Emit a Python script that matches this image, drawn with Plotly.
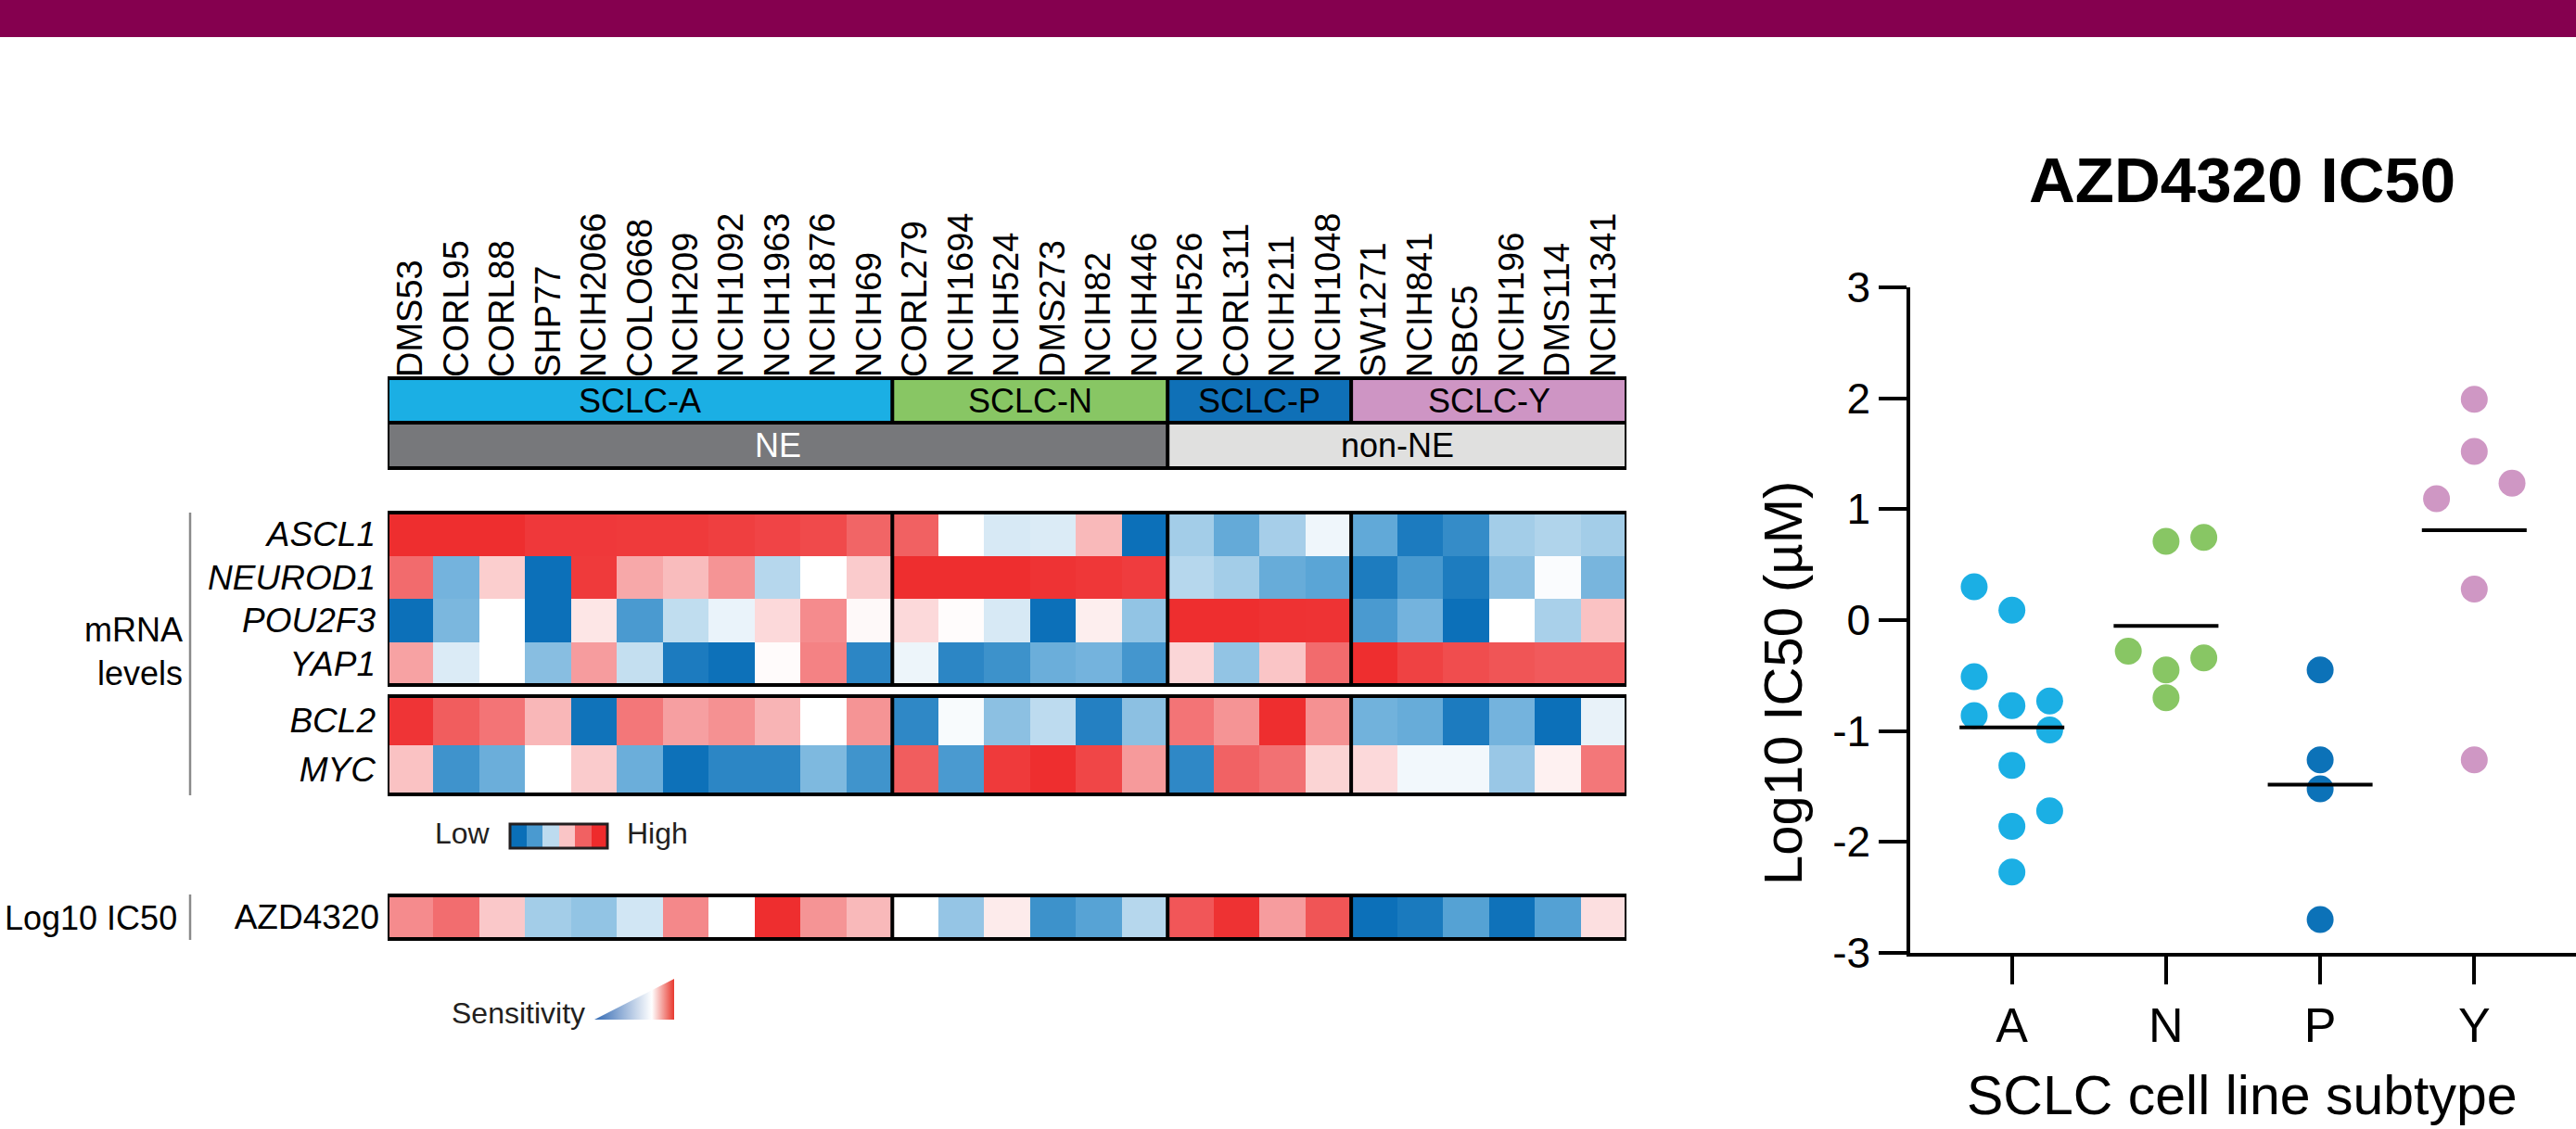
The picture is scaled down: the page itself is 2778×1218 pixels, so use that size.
import numpy as np
import plotly.graph_objects as go

W, H = 2778, 1218
FONT = "Liberation Sans, Arial, Helvetica, sans-serif"
INK = "#000000"

# ---------------- data ----------------
cell_lines = ["DMS53", "CORL95", "CORL88", "SHP77", "NCIH2066", "COLO668", "NCIH209",
              "NCIH1092", "NCIH1963", "NCIH1876", "NCIH69",
              "CORL279", "NCIH1694", "NCIH524", "DMS273", "NCIH82", "NCIH446",
              "NCIH526", "CORL311", "NCIH211", "NCIH1048",
              "SW1271", "NCIH841", "SBC5", "NCIH196", "DMS114", "NCIH1341"]
subtype_names = ["SCLC-A", "SCLC-N", "SCLC-P", "SCLC-Y"]
subtype_counts = [11, 6, 4, 6]
subtype_colors = ["#1bafe4", "#88c664", "#0f70b7", "#ce95c4"]
ne_names = ["NE", "non-NE"]
ne_counts = [17, 10]
ne_colors = ["#77787b", "#e0e0df"]
ne_text_colors = ["#ffffff", "#000000"]

genes_tf = ["ASCL1", "NEUROD1", "POU2F3", "YAP1"]
genes_other = ["BCL2", "MYC"]
drug_row = ["AZD4320"]

ascl1 = [0.98, 0.98, 0.98, 0.90, 0.90, 0.89, 0.89, 0.85, 0.81, 0.77, 0.57,
         0.60, 0.00, -0.12, -0.11, 0.24, -0.99,
         -0.28, -0.47, -0.27, -0.05,
         -0.48, -0.89, -0.73, -0.28, -0.24, -0.28]
neurod1 = [0.52, -0.42, 0.17, -0.99, 0.89, 0.30, 0.23, 0.37, -0.22, 0.00, 0.18,
           0.98, 0.98, 0.98, 0.94, 0.91, 0.87,
           -0.22, -0.28, -0.46, -0.50,
           -0.88, -0.61, -0.88, -0.35, -0.015, -0.41]
pou2f3 = [-0.99, -0.40, 0.00, -0.99, 0.086, -0.60, -0.19, -0.064, 0.13, 0.40, 0.02,
          0.13, 0.01, -0.12, -0.99, 0.06, -0.33,
          0.98, 0.98, 0.95, 0.94,
          -0.60, -0.42, -0.99, 0.00, -0.26, 0.21]
yap1 = [0.32, -0.11, 0.00, -0.36, 0.34, -0.18, -0.89, -0.98, 0.015, 0.43, -0.79,
        -0.055, -0.79, -0.68, -0.45, -0.42, -0.64,
        0.14, -0.33, 0.20, 0.52,
        0.98, 0.83, 0.75, 0.69, 0.65, 0.65]
bcl2 = [0.93, 0.63, 0.48, 0.25, -0.96, 0.47, 0.33, 0.38, 0.26, 0.00, 0.37,
        -0.77, -0.02, -0.35, -0.20, -0.84, -0.35,
        0.48, 0.37, 0.98, 0.38,
        -0.43, -0.46, -0.89, -0.42, -0.99, -0.07]
myc = [0.21, -0.67, -0.45, 0.00, 0.18, -0.45, -0.98, -0.79, -0.79, -0.39, -0.66,
       0.63, -0.60, 0.89, 0.98, 0.80, 0.35,
       -0.77, 0.59, 0.49, 0.15,
       0.13, -0.04, -0.04, -0.31, 0.05, 0.47]
azd4320 = [0.40, 0.51, 0.19, -0.28, -0.33, -0.14, 0.41, 0.00, 0.98, 0.37, 0.24,
           0.00, -0.32, 0.07, -0.68, -0.52, -0.22,
           0.68, 0.95, 0.34, 0.69,
           -0.99, -0.90, -0.53, -0.97, -0.54, 0.11]

legend_steps = [-1.0, -0.6, -0.2, 0.2, 0.6, 1.0]

# scatter panel
groups = ["A", "N", "P", "Y"]
group_colors = ["#1bafe4", "#88c664", "#0c72b8", "#cf97c4"]
ic50_A = [0.30, 0.09, -0.51, -0.77, -0.73, -0.86, -0.99, -1.31, -1.72, -1.86, -2.27]
ic50_N = [0.71, 0.745, -0.28, -0.45, -0.34, -0.70]
ic50_P = [-0.45, -1.26, -1.52, -2.70]
ic50_Y = [1.99, 1.52, 1.235, 1.095, 0.28, -1.26]
jitter_A = [-0.245, 0, -0.245, 0, 0.245, -0.245, 0.245, 0, 0.245, 0, 0]
jitter_N = [0, 0.245, -0.245, 0, 0.245, 0]
jitter_P = [0, 0, 0, 0]
jitter_Y = [0, 0, 0.245, -0.245, 0, 0]
y_tick_vals = [-3, -2, -1, 0, 1, 2, 3]
y_tick_labels = ["-3", "-2", "-1", "0", "1", "2", "3"]

# ---------------- helpers ----------------
def px(p):
    return p / W


def py(p):
    return 1 - p / H


colorscale = [[0, "#0a6fb8"], [0.25, "#5aa5d6"], [0.5, "#ffffff"],
              [0.75, "#f26e70"], [1, "#ee2b2c"]]


def step_scale(colors):
    n = len(colors)
    cs = []
    for i, c in enumerate(colors):
        cs.append([i / n, c])
        cs.append([(i + 1) / n, c])
    return cs


def expand(counts):
    out = []
    for i, c in enumerate(counts):
        out += [i] * c
    return out


subtype_codes = expand(subtype_counts)
ne_codes = expand(ne_counts)

fig = go.Figure()

# subtype bar
fig.add_trace(go.Heatmap(z=[subtype_codes], x=cell_lines, y=[0], xaxis="x", yaxis="y",
                         colorscale=step_scale(subtype_colors), zmin=-0.5, zmax=3.5,
                         showscale=False, hoverinfo="skip"))
# NE bar
fig.add_trace(go.Heatmap(z=[ne_codes], x=cell_lines, y=[0], xaxis="x", yaxis="y2",
                         colorscale=step_scale(ne_colors), zmin=-0.5, zmax=1.5,
                         showscale=False, hoverinfo="skip"))
# mRNA heatmaps
fig.add_trace(go.Heatmap(z=[ascl1, neurod1, pou2f3, yap1], x=cell_lines, y=genes_tf,
                         xaxis="x", yaxis="y3", colorscale=colorscale, zmin=-1, zmax=1,
                         showscale=False))
fig.add_trace(go.Heatmap(z=[bcl2, myc], x=cell_lines, y=genes_other,
                         xaxis="x", yaxis="y4", colorscale=colorscale, zmin=-1, zmax=1,
                         showscale=False))
fig.add_trace(go.Heatmap(z=[azd4320], x=cell_lines, y=drug_row,
                         xaxis="x", yaxis="y5", colorscale=colorscale, zmin=-1, zmax=1,
                         showscale=False))
# Low/High legend
fig.add_trace(go.Heatmap(z=[legend_steps], xaxis="x2", yaxis="y6", colorscale=colorscale,
                         zmin=-1, zmax=1, showscale=False, hoverinfo="skip"))
# sensitivity triangle
fig.add_trace(go.Scatter(x=[0, 1, 1, 0], y=[0, 0, 1, 0], xaxis="x3", yaxis="y7",
                         mode="lines", line=dict(width=0), fill="toself",
                         fillgradient=dict(type="horizontal",
                                           colorscale=[[0, "#3269b3"], [0.72, "#ffffff"],
                                                       [1, "#e8392f"]]),
                         hoverinfo="skip", showlegend=False))

# scatter panel
vals = [ic50_A, ic50_N, ic50_P, ic50_Y]
jits = [jitter_A, jitter_N, jitter_P, jitter_Y]
for gi, (g, v, j, c) in enumerate(zip(groups, vals, jits, group_colors)):
    fig.add_trace(go.Scatter(x=[gi + d for d in j], y=v, xaxis="x4", yaxis="y8",
                             mode="markers", marker=dict(size=29, color=c),
                             showlegend=False, name=g, cliponaxis=False))
    m = float(np.mean(v))
    fig.add_trace(go.Scatter(x=[gi - 0.34, gi + 0.34], y=[m, m], xaxis="x4", yaxis="y8",
                             mode="lines", line=dict(color="black", width=4),
                             showlegend=False, hoverinfo="skip"))

hidden = dict(showticklabels=False, ticks="", showgrid=False, zeroline=False, showline=False,
              automargin=False)

layout = dict(
    width=W, height=H, margin=dict(l=0, r=0, t=0, b=0, pad=0, autoexpand=False),
    paper_bgcolor="white", plot_bgcolor="white",
    font=dict(family=FONT, color=INK),
    xaxis=dict(domain=[px(418), px(1754)], anchor="y", side="top", tickangle=-90,
               tickfont=dict(size=38, family=FONT, color=INK), ticks="",
               showgrid=False, zeroline=False, showline=False, automargin=False,
               type="category", categoryorder="array", categoryarray=cell_lines,
               range=[-0.5, len(cell_lines) - 0.5]),
    yaxis=dict(domain=[py(456), py(408)], anchor="x", range=[-0.5, 0.5], **hidden),
    yaxis2=dict(domain=[py(505), py(456)], anchor="x", range=[-0.5, 0.5], **hidden),
    yaxis3=dict(domain=[py(739), py(553)], anchor="x", autorange="reversed",
                tickfont=dict(size=37, family=FONT, color=INK, style="italic"),
                ticks="", showgrid=False, zeroline=False, showline=False,
                ticklabelstandoff=12, automargin=False),
    yaxis4=dict(domain=[py(857), py(751)], anchor="x", autorange="reversed",
                tickfont=dict(size=37, family=FONT, color=INK, style="italic"),
                ticks="", showgrid=False, zeroline=False, showline=False,
                ticklabelstandoff=12, automargin=False),
    yaxis5=dict(domain=[py(1013), py(966)], anchor="x",
                tickfont=dict(size=37, family=FONT, color=INK),
                ticks="", showgrid=False, zeroline=False, showline=False,
                ticklabelstandoff=8, automargin=False),
    xaxis2=dict(domain=[px(550), px(655)], anchor="y6", **hidden),
    yaxis6=dict(domain=[py(915), py(889)], anchor="x2", **hidden),
    xaxis3=dict(domain=[px(641), px(727)], anchor="y7", range=[0, 1], **hidden),
    yaxis7=dict(domain=[py(1100), py(1056)], anchor="x3", range=[0, 1], **hidden),
    xaxis4=dict(domain=[px(2060), 1.0], anchor="y8", range=[-0.66, 3.66],
                tickvals=list(range(len(groups))), ticktext=groups,
                tickfont=dict(size=52, family=FONT, color=INK),
                ticks="outside", ticklen=30, tickwidth=3.5, tickcolor="black",
                showline=True, linewidth=3.5, linecolor="black",
                showgrid=False, zeroline=False, automargin=False),
    yaxis8=dict(domain=[py(1028), py(310)], anchor="x4", range=[-3, 3],
                tickvals=y_tick_vals, ticktext=y_tick_labels,
                tickfont=dict(size=46, family=FONT, color=INK),
                ticks="outside", ticklen=30, tickwidth=3.5, tickcolor="black",
                showline=True, linewidth=3.5, linecolor="black",
                showgrid=False, zeroline=False, automargin=False),
)
fig.update_layout(**layout)

shapes = []
# header band
shapes.append(dict(type="rect", xref="paper", yref="paper", x0=0, x1=1, y0=py(40), y1=1,
                   fillcolor="#85004f", line=dict(width=0), layer="below"))

LW = 4
n = len(cell_lines)
bounds_sub = list(np.cumsum(subtype_counts)[:-1] - 0.5)
bounds_ne = list(np.cumsum(ne_counts)[:-1] - 0.5)
for yref, bounds in [("y", bounds_sub), ("y2", bounds_ne), ("y3", bounds_sub),
                     ("y4", bounds_sub), ("y5", bounds_sub)]:
    shapes.append(dict(type="rect", xref="x", yref=f"{yref} domain", x0=-0.5, x1=n - 0.5,
                       y0=0, y1=1, line=dict(color="black", width=LW)))
    for b in bounds:
        shapes.append(dict(type="line", xref="x", yref=f"{yref} domain", x0=b, x1=b,
                           y0=0, y1=1, line=dict(color="black", width=LW)))
# legend border
shapes.append(dict(type="rect", xref="x2 domain", yref="y6 domain", x0=0, x1=1, y0=0, y1=1,
                   line=dict(color="#231f20", width=3)))
# gray bracket lines
shapes.append(dict(type="line", xref="paper", yref="paper", x0=px(205), x1=px(205),
                   y0=py(553), y1=py(858), line=dict(color="#8a8a8a", width=2.5)))
shapes.append(dict(type="line", xref="paper", yref="paper", x0=px(205), x1=px(205),
                   y0=py(965), y1=py(1014), line=dict(color="#8a8a8a", width=2.5)))

annotations = []
# subtype labels
start = 0
for name, cnt in zip(subtype_names, subtype_counts):
    annotations.append(dict(x=start + (cnt - 1) / 2, y=0.5, xref="x", yref="y domain",
                            text=name, showarrow=False,
                            font=dict(size=36, color="black", family=FONT)))
    start += cnt
start = 0
for name, cnt, tc in zip(ne_names, ne_counts, ne_text_colors):
    annotations.append(dict(x=start + (cnt - 1) / 2, y=0.5, xref="x", yref="y2 domain",
                            text=name, showarrow=False,
                            font=dict(size=36, color=tc, family=FONT)))
    start += cnt

annotations += [
    dict(x=px(199), y=py(703), xref="paper", yref="paper", xanchor="right", yanchor="middle",
         text="mRNA<br>levels", align="right", showarrow=False,
         font=dict(size=36, family=FONT, color=INK)),
    dict(x=px(3), y=py(990), xref="paper", yref="paper", xanchor="left", yanchor="middle",
         text="Log10 IC50", showarrow=False, font=dict(size=36, family=FONT, color=INK)),
    dict(x=px(531), y=py(899), xref="paper", yref="paper", xanchor="right", yanchor="middle",
         text="Low", showarrow=False, font=dict(size=32, family=FONT, color="#231f20")),
    dict(x=px(674), y=py(899), xref="paper", yref="paper", xanchor="left", yanchor="middle",
         text="High", showarrow=False, font=dict(size=32, family=FONT, color="#231f20")),
    dict(x=px(633), y=py(1093), xref="paper", yref="paper", xanchor="right", yanchor="middle",
         text="Sensitivity", showarrow=False, font=dict(size=32, family=FONT, color="#231f20")),
    dict(x=px(2418), y=py(195), xref="paper", yref="paper", xanchor="center", yanchor="middle",
         text="<b>AZD4320 IC50</b>", showarrow=False,
         font=dict(size=69, family=FONT, color="black")),
    dict(x=px(1922), y=py(737), xref="paper", yref="paper", xanchor="center", yanchor="middle",
         text="Log10 IC50 (µM)", textangle=-90, showarrow=False,
         font=dict(size=58, family=FONT, color="black")),
    dict(x=px(2418), y=py(1182), xref="paper", yref="paper", xanchor="center", yanchor="middle",
         text="SCLC cell line subtype", showarrow=False,
         font=dict(size=59, family=FONT, color="black")),
]

fig.update_layout(shapes=shapes, annotations=annotations)
fig.write_html("out.html", config={"displayModeBar": False},
               post_script="document.body.style.margin='0';document.body.style.overflow='hidden';")
